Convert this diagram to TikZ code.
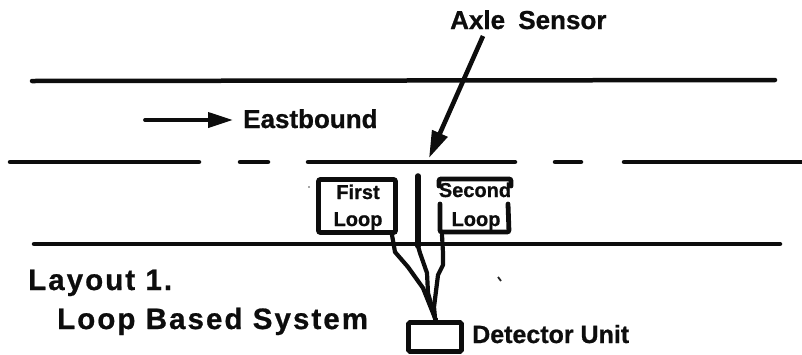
\documentclass[tikz,border=0pt]{standalone}
\usepackage{fontspec}
\setmainfont{Liberation Sans}
\newfontfamily\heavyfont{Liberation Sans Bold}[FakeBold=0.8]
\newfontfamily\heavywide{Liberation Sans Bold}[FakeBold=0.8,LetterSpace=7]
\usetikzlibrary{arrows.meta}
\tikzset{
  road/.style={line width=4.5pt,line cap=round,black!95},
  loopline/.style={line width=4.8pt,black!95,line cap=round,rounded corners=2pt},
  wire/.style={line width=4.2pt,black!95,line cap=round,line join=round},
  lbl/.style={font=\heavyfont\fontsize{26}{28}\selectfont,inner sep=0pt,anchor=base west,text=black!95},
  biglbl/.style={font=\heavywide\fontsize{29.5}{31}\selectfont,inner sep=0pt,anchor=base west,text=black!95},
  small/.style={font=\heavyfont\fontsize{20}{22}\selectfont,inner sep=0pt,anchor=base,text=black!95},
}
\begin{document}
\begin{tikzpicture}[x=1pt,y=-1pt]
\useasboundingbox (0,0) rectangle (802,354);
% roads
\draw[road] (32,81) -- (775,80);
\draw[road] (10,162) -- (199,162);
\draw[road] (240,162) -- (268,162);
\draw[road] (308,162) -- (515,162);
\draw[road] (555,162) -- (581,162);
\draw[road] (624,162) -- (804,162);
\draw[road] (34,244) -- (780,244);
% labels
\node[lbl] (axle) at (450,29) {Axle\hspace{6pt} Sensor};
\node[lbl] (east) at (243,128) {Eastbound};
\node[biglbl] (lay) at (28,290) {Layout 1.};
\node[biglbl] (sys) at (57,329) {Loop Based System};
\node[lbl,font=\heavyfont\fontsize{25}{28}\selectfont] (det) at (472,343) {Detector Unit};
% arrows
\coordinate (ea) at (145,120);
\coordinate (eb) at (233,120);
\draw[line width=3.8pt,line cap=round,black!95,-{Triangle[length=25pt,width=15pt]}] (ea) -- (eb);
\coordinate (as) at (483,36);
\coordinate (at) at (429,158);
\draw[line width=4.6pt,black!95,-{Triangle[length=27pt,width=16pt]}] (as) -- (at);
% loops
\draw[loopline] (318.5,179.5) rectangle (395.5,232.5);
\node[small] (f1) at (358,199) {First};
\node[small] (f2) at (358,226) {Loop};
\coordinate (sl) at (440,204);
\coordinate (sr) at (508,204);
\draw[loopline] (sl) -- (440,232) -- (509,232) -- (sr);
\draw[loopline] (439,186) -- (439,179) -- (511,179) -- (511,186);
\node[small] (s1) at (475,197) {Second};
\node[small] (s2) at (476,226) {Loop};
% detector
\node[draw=black!95,line width=4.8pt,rounded corners=1.5pt,minimum width=53pt,minimum height=29pt,inner sep=0pt] (unit) at (435,337) {};
% wires
\coordinate (j) at (435,318);
\draw[wire] (392,235) -- (395,252) -- (408,267) -- (423,288) -- (j);
\draw[line width=5.6pt,black!95,line cap=round,line join=round] (418,176) -- (418,246);
\draw[wire] (418,246) -- (420,253) -- (427,273) -- (428,293) -- (j);
\draw[wire] (442,235) -- (443,253) -- (443,265) -- (438,275) -- (434,307) -- (j);
\draw[line width=5pt,black!95] (j) -- (unit.north);
% specks
\draw[line width=1.8pt,black!85] (498,277) -- (501,281);
\fill[black!70] (309,187) circle (0.8pt);
\end{tikzpicture}
\end{document}
